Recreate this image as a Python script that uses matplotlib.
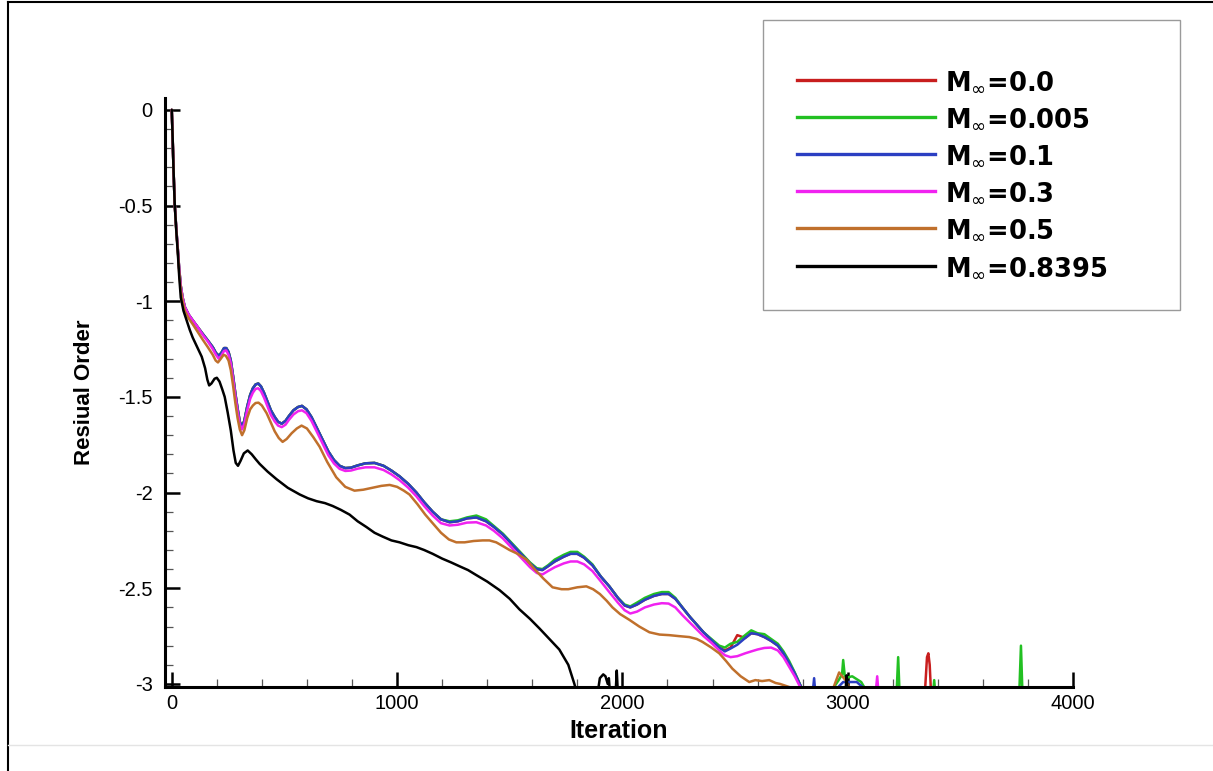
import matplotlib
matplotlib.use("Agg")
import matplotlib.pyplot as plt
from matplotlib.lines import Line2D
from matplotlib.patches import Rectangle
from matplotlib.ticker import MultipleLocator

# ---------------- data ----------------
labels = [r"M$_{\infty}$=0.0", r"M$_{\infty}$=0.005", r"M$_{\infty}$=0.1",
          r"M$_{\infty}$=0.3", r"M$_{\infty}$=0.5", r"M$_{\infty}$=0.8395"]
colors = ["#c81e1e", "#22c022", "#2b3fc2", "#f022f0", "#c0702c", "#000000"]

# iterations at which the four low-Mach curves were read (0 .. 2810)
it_grid = [0, 4, 8, 13, 20, 27, 33, 40, 48, 58,
           75, 93, 115, 137, 160, 182, 196, 208, 220, 232,
           242, 252, 262, 272, 282, 292, 302, 312, 322, 335,
           348, 360, 372, 384, 396, 410, 425, 440, 457, 472,
           488, 505, 520, 540, 560, 578, 598, 620, 643, 670,
           695, 720, 745, 770, 795, 825, 860, 900, 940, 975,
           1011, 1050, 1086, 1120, 1158, 1195, 1233, 1270, 1310, 1352,
           1395, 1430, 1470, 1510, 1550, 1590, 1620, 1645, 1670, 1700,
           1740, 1770, 1800, 1830, 1867, 1905, 1942, 1980, 2010, 2035,
           2065, 2100, 2140, 2175, 2205, 2235, 2266, 2300, 2330, 2360,
           2395, 2430, 2455, 2480, 2510, 2545, 2572, 2600, 2630, 2660,
           2690, 2715, 2740, 2765, 2795, 2810]

# M=0.1 (blue)
r_m01 = [0.0, -0.15, -0.32, -0.49, -0.62, -0.73, -0.83, -0.92, -0.98, -1.03,
         -1.07, -1.10, -1.135, -1.17, -1.205, -1.24, -1.27, -1.285, -1.27, -1.245,
         -1.245, -1.265, -1.31, -1.39, -1.48, -1.56, -1.63, -1.655, -1.625, -1.55,
         -1.49, -1.455, -1.435, -1.43, -1.445, -1.48, -1.525, -1.57, -1.605, -1.63,
         -1.64, -1.625, -1.60, -1.57, -1.553, -1.547, -1.565, -1.605, -1.66, -1.725,
         -1.785, -1.83, -1.86, -1.872, -1.87, -1.858, -1.847, -1.845, -1.86, -1.885,
         -1.915, -1.955, -2.0, -2.05, -2.10, -2.14, -2.155, -2.15, -2.135, -2.13,
         -2.15, -2.18, -2.22, -2.27, -2.32, -2.37, -2.40, -2.405, -2.385, -2.36,
         -2.335, -2.32, -2.32, -2.34, -2.38, -2.44, -2.49, -2.55, -2.59, -2.60,
         -2.585, -2.56, -2.54, -2.53, -2.53, -2.555, -2.60, -2.65, -2.69, -2.73,
         -2.77, -2.81, -2.83, -2.815, -2.795, -2.76, -2.735, -2.74, -2.755, -2.775,
         -2.80, -2.84, -2.89, -2.945, -3.02, -3.1]
it_m01_tail = [2840, 2851, 2860, 2930, 2980, 3040, 3080, 3100]
r_m01_tail = [-3.1, -2.97, -3.1, -3.05, -2.99, -2.99, -3.03, -3.1]

# M=0.0 (red) -- hidden under blue except for small spikes
r_m00 = [0.0, -0.15, -0.32, -0.49, -0.62, -0.73, -0.83, -0.92, -0.98, -1.03,
         -1.07, -1.10, -1.135, -1.17, -1.205, -1.24, -1.27, -1.285, -1.27, -1.245,
         -1.245, -1.265, -1.31, -1.39, -1.48, -1.56, -1.63, -1.655, -1.625, -1.55,
         -1.49, -1.455, -1.435, -1.43, -1.445, -1.48, -1.525, -1.57, -1.605, -1.63,
         -1.64, -1.625, -1.60, -1.57, -1.553, -1.547, -1.565, -1.605, -1.66, -1.725,
         -1.785, -1.83, -1.86, -1.872, -1.87, -1.858, -1.847, -1.845, -1.86, -1.885,
         -1.915, -1.955, -2.0, -2.05, -2.10, -2.14, -2.155, -2.15, -2.135, -2.13,
         -2.15, -2.18, -2.22, -2.27, -2.32, -2.37, -2.40, -2.405, -2.385, -2.36,
         -2.335, -2.32, -2.32, -2.34, -2.38, -2.44, -2.49, -2.55, -2.59, -2.60,
         -2.585, -2.56, -2.54, -2.53, -2.53, -2.555, -2.60, -2.65, -2.69, -2.73,
         -2.77, -2.81, -2.825, -2.81, -2.745, -2.76, -2.735, -2.74, -2.755, -2.775,
         -2.80, -2.84, -2.89, -2.945, -3.02, -3.1]
it_m00_tail = [3340, 3352, 3358, 3364, 3372]
r_m00_tail = [-3.1, -2.86, -2.84, -2.90, -3.1]

# M=0.005 (green)
r_m0005 = [0.0, -0.15, -0.32, -0.49, -0.62, -0.73, -0.83, -0.92, -0.98, -1.03,
           -1.07, -1.10, -1.135, -1.17, -1.205, -1.24, -1.27, -1.285, -1.27, -1.245,
           -1.245, -1.265, -1.31, -1.39, -1.48, -1.56, -1.63, -1.655, -1.625, -1.55,
           -1.49, -1.455, -1.435, -1.43, -1.445, -1.48, -1.525, -1.57, -1.605, -1.63,
           -1.64, -1.625, -1.60, -1.57, -1.553, -1.547, -1.565, -1.605, -1.66, -1.725,
           -1.785, -1.83, -1.86, -1.872, -1.87, -1.858, -1.847, -1.845, -1.86, -1.885,
           -1.915, -1.955, -2.0, -2.05, -2.10, -2.14, -2.15, -2.145, -2.13, -2.12,
           -2.14, -2.175, -2.215, -2.265, -2.315, -2.365, -2.395, -2.40, -2.38, -2.35,
           -2.325, -2.31, -2.31, -2.335, -2.375, -2.44, -2.49, -2.55, -2.585, -2.595,
           -2.575, -2.55, -2.53, -2.52, -2.52, -2.55, -2.60, -2.65, -2.69, -2.73,
           -2.765, -2.80, -2.81, -2.79, -2.78, -2.745, -2.72, -2.735, -2.74, -2.765,
           -2.79, -2.83, -2.88, -2.94, -3.02, -3.1]
it_m0005_tail = [2920, 2960, 2975, 2980, 2988, 3020, 3060, 3090,
                 3215, 3224, 3232, 3375, 3384, 3392, 3760, 3769, 3777]
r_m0005_tail = [-3.05, -2.98, -2.95, -2.875, -2.97, -2.96, -2.99, -3.05,
                -3.1, -2.86, -3.1, -3.1, -2.98, -3.1, -3.1, -2.80, -3.1]

# M=0.3 (magenta)
r_m03 = [0.0, -0.15, -0.32, -0.49, -0.62, -0.73, -0.83, -0.92, -0.98, -1.03,
         -1.07, -1.10, -1.135, -1.175, -1.21, -1.25, -1.28, -1.30, -1.285, -1.26,
         -1.258, -1.28, -1.325, -1.405, -1.495, -1.575, -1.645, -1.67, -1.64, -1.57,
         -1.51, -1.478, -1.458, -1.455, -1.47, -1.505, -1.55, -1.595, -1.628, -1.65,
         -1.658, -1.645, -1.62, -1.592, -1.575, -1.57, -1.585, -1.625, -1.68, -1.745,
         -1.805, -1.848, -1.876, -1.887, -1.885, -1.875, -1.868, -1.868, -1.882, -1.905,
         -1.935, -1.975, -2.02, -2.07, -2.12, -2.16, -2.172, -2.168, -2.157, -2.155,
         -2.172, -2.20, -2.24, -2.29, -2.34, -2.39, -2.42, -2.428, -2.41, -2.39,
         -2.37, -2.36, -2.36, -2.375, -2.41, -2.465, -2.52, -2.575, -2.615, -2.632,
         -2.622, -2.60, -2.585, -2.578, -2.58, -2.60, -2.64, -2.68, -2.715, -2.75,
         -2.785, -2.825, -2.85, -2.86, -2.855, -2.84, -2.83, -2.82, -2.812, -2.81,
         -2.825, -2.86, -2.91, -2.96, -3.03, -3.1]
it_m03_tail = [3120, 3131, 3140]
r_m03_tail = [-3.1, -2.96, -3.1]

# M=0.5 (brown)
it_m05 = [0, 4, 8, 13, 20, 27, 33, 40, 48, 58,
          75, 93, 115, 137, 160, 182, 195, 205, 218, 230,
          240, 252, 262, 272, 282, 292, 302, 312, 322, 335,
          348, 360, 372, 385, 400, 421, 440, 457, 475, 492,
          510, 532, 555, 576, 600, 628, 656, 690, 730, 770,
          811, 850, 890, 930, 967, 1000, 1030, 1055, 1090, 1125,
          1158, 1195, 1230, 1263, 1300, 1340, 1380, 1410, 1440, 1470,
          1499, 1535, 1574, 1610, 1650, 1690, 1730, 1760, 1800, 1840,
          1870, 1900, 1930, 1956, 1990, 2031, 2075, 2120, 2165, 2208,
          2250, 2297, 2330, 2355, 2395, 2430, 2460, 2488, 2525, 2563,
          2590, 2620, 2652, 2680, 2700, 2750, 2800, 2927, 2962, 2990,
          3020, 3040]
r_m05 = [0.0, -0.15, -0.32, -0.49, -0.63, -0.74, -0.85, -0.94, -1.0, -1.05,
         -1.09, -1.12, -1.16, -1.20, -1.24, -1.28, -1.31, -1.32, -1.30, -1.28,
         -1.285, -1.31, -1.36, -1.44, -1.53, -1.61, -1.67, -1.70, -1.675, -1.61,
         -1.565, -1.545, -1.532, -1.53, -1.545, -1.585, -1.635, -1.68, -1.715, -1.735,
         -1.72, -1.69, -1.665, -1.65, -1.665, -1.71, -1.76, -1.84, -1.92, -1.97,
         -1.99, -1.985, -1.975, -1.965, -1.96, -1.97, -1.99, -2.01, -2.06, -2.115,
         -2.16, -2.21, -2.245, -2.26, -2.26, -2.253, -2.25, -2.25, -2.26, -2.28,
         -2.30, -2.32, -2.35, -2.40, -2.45, -2.495, -2.505, -2.505, -2.495, -2.49,
         -2.505, -2.53, -2.565, -2.60, -2.635, -2.665, -2.70, -2.73, -2.742, -2.745,
         -2.75, -2.755, -2.765, -2.78, -2.81, -2.84, -2.88, -2.92, -2.96, -2.99,
         -2.98, -2.985, -2.98, -2.995, -3.0, -3.02, -3.1, -3.05, -2.94, -2.98,
         -3.05, -3.1]

# M=0.8395 (black)
it_m08 = [0, 4, 8, 13, 20, 27, 33, 40, 52, 66,
          80, 93, 113, 133, 148, 158, 166, 176, 190, 200,
          212, 224, 235, 248, 262, 274, 284, 294, 305, 320,
          337, 355, 372, 390, 425, 465, 515, 568, 605, 643,
          680, 714, 750, 789, 825, 864, 900, 936, 975, 1011,
          1050, 1086, 1120, 1158, 1200, 1240, 1277, 1315, 1350, 1400,
          1455, 1500, 1543, 1590, 1632, 1680, 1720, 1760, 1787, 1810,
          1890, 1900, 1915, 1925, 1935, 1940, 1945, 1970, 1975, 1980,
          2990, 2995, 3000]
r_m08 = [0.0, -0.15, -0.32, -0.49, -0.63, -0.75, -0.87, -0.98, -1.05, -1.10,
         -1.15, -1.19, -1.24, -1.29, -1.35, -1.41, -1.44, -1.43, -1.405, -1.40,
         -1.42, -1.46, -1.50, -1.58, -1.675, -1.78, -1.845, -1.86, -1.835, -1.795,
         -1.78, -1.80, -1.825, -1.85, -1.89, -1.93, -1.975, -2.01, -2.03, -2.045,
         -2.055, -2.07, -2.09, -2.115, -2.15, -2.18, -2.21, -2.23, -2.25, -2.26,
         -2.275, -2.285, -2.30, -2.32, -2.345, -2.365, -2.385, -2.405, -2.43, -2.465,
         -2.51, -2.555, -2.61, -2.66, -2.71, -2.77, -2.82, -2.90, -3.0, -3.1,
         -3.05, -2.97, -2.95, -2.96, -3.0, -2.97, -3.05, -3.05, -2.93, -3.05,
         -3.05, -2.955, -3.05]

series_it = [it_grid + it_m00_tail, it_grid + it_m0005_tail, it_grid + it_m01_tail,
             it_grid + it_m03_tail, it_m05, it_m08]
series_r = [r_m00 + r_m00_tail, r_m0005 + r_m0005_tail, r_m01 + r_m01_tail,
            r_m03 + r_m03_tail, r_m05, r_m08]

x_major = [0, 1000, 2000, 3000, 4000]
y_major = [0, -0.5, -1, -1.5, -2, -2.5, -3]
y_ticklabels = ["0", "-0.5", "-1", "-1.5", "-2", "-2.5", "-3"]

# ---------------- figure ----------------
W, H = 1213, 771
fig = plt.figure(figsize=(W / 100, H / 100), dpi=100)
fig.patch.set_facecolor("white")

ax = fig.add_axes([165 / W, 1 - 687 / H, (1073 - 165) / W, (687 - 98) / H])
for it, r, c in zip(series_it, series_r, colors):
    ax.plot(it, r, color=c, lw=1.8, solid_joinstyle="round", solid_capstyle="round")

ax.set_xlim(-30, 4000)
ax.set_ylim(-3.016, 0.062)
for s in ("top", "right"):
    ax.spines[s].set_visible(False)
for s in ("left", "bottom"):
    ax.spines[s].set_linewidth(2.2)

ax.set_xticks(x_major)
ax.set_xticklabels([str(v) for v in x_major])
ax.set_yticks(y_major)
ax.set_yticklabels(y_ticklabels)
ax.xaxis.set_minor_locator(MultipleLocator(200))
ax.yaxis.set_minor_locator(MultipleLocator(0.1))
ax.tick_params(which="major", direction="in", length=11, width=1.8,
               labelsize=14.5, colors="black")
ax.tick_params(which="minor", direction="in", length=5.5, width=0.9, colors="#555555")
ax.tick_params(axis="y", which="major", pad=9)
ax.tick_params(axis="x", which="major", pad=5)
for lab in ax.get_xticklabels() + ax.get_yticklabels():
    lab.set_fontfamily("Liberation Sans")

ax.set_xlabel("Iteration", fontsize=18, fontweight="bold", family="Liberation Sans")
ax.set_ylabel("Resiual Order", fontsize=16, fontweight="bold", family="Liberation Sans")
ax.xaxis.set_label_coords(0.5, -(731 - 687) / (687 - 98))
ax.xaxis.label.set_va("center")
ax.yaxis.set_label_coords(-(165 - 84) / (1073 - 165), 0.5)
ax.yaxis.label.set_va("center")

# ---------------- legend box ----------------
fig.patches.append(Rectangle((763 / W, 1 - 310 / H), (1180 - 763) / W, (310 - 20) / H,
                             transform=fig.transFigure, facecolor="white",
                             edgecolor="#9a9a9a", lw=1.0, zorder=5))
rows = [80, 117, 154, 191, 228, 266]
for yrow, c, lab in zip(rows, colors, labels):
    fy = 1 - yrow / H
    fig.lines.append(Line2D([797 / W, 935 / W], [fy, fy], transform=fig.transFigure,
                            color=c, lw=2.4, zorder=6))
    fig.text(945 / W, 1 - (yrow + 9) / H, lab, fontsize=18.5, fontweight="bold",
             family="DejaVu Sans", va="baseline", ha="left", zorder=6)

# ---------------- outer frame ----------------
fig.lines.append(Line2D([8 / W, 8 / W], [0, 1 - 2 / H], transform=fig.transFigure,
                        color="black", lw=1.5))
fig.lines.append(Line2D([8 / W, 1], [1 - 2 / H, 1 - 2 / H], transform=fig.transFigure,
                        color="black", lw=1.5))
fig.lines.append(Line2D([8 / W, 1], [1 - 745 / H, 1 - 745 / H], transform=fig.transFigure,
                        color="#e4e4e4", lw=1.0))

fig.savefig("out.png", dpi=100)
